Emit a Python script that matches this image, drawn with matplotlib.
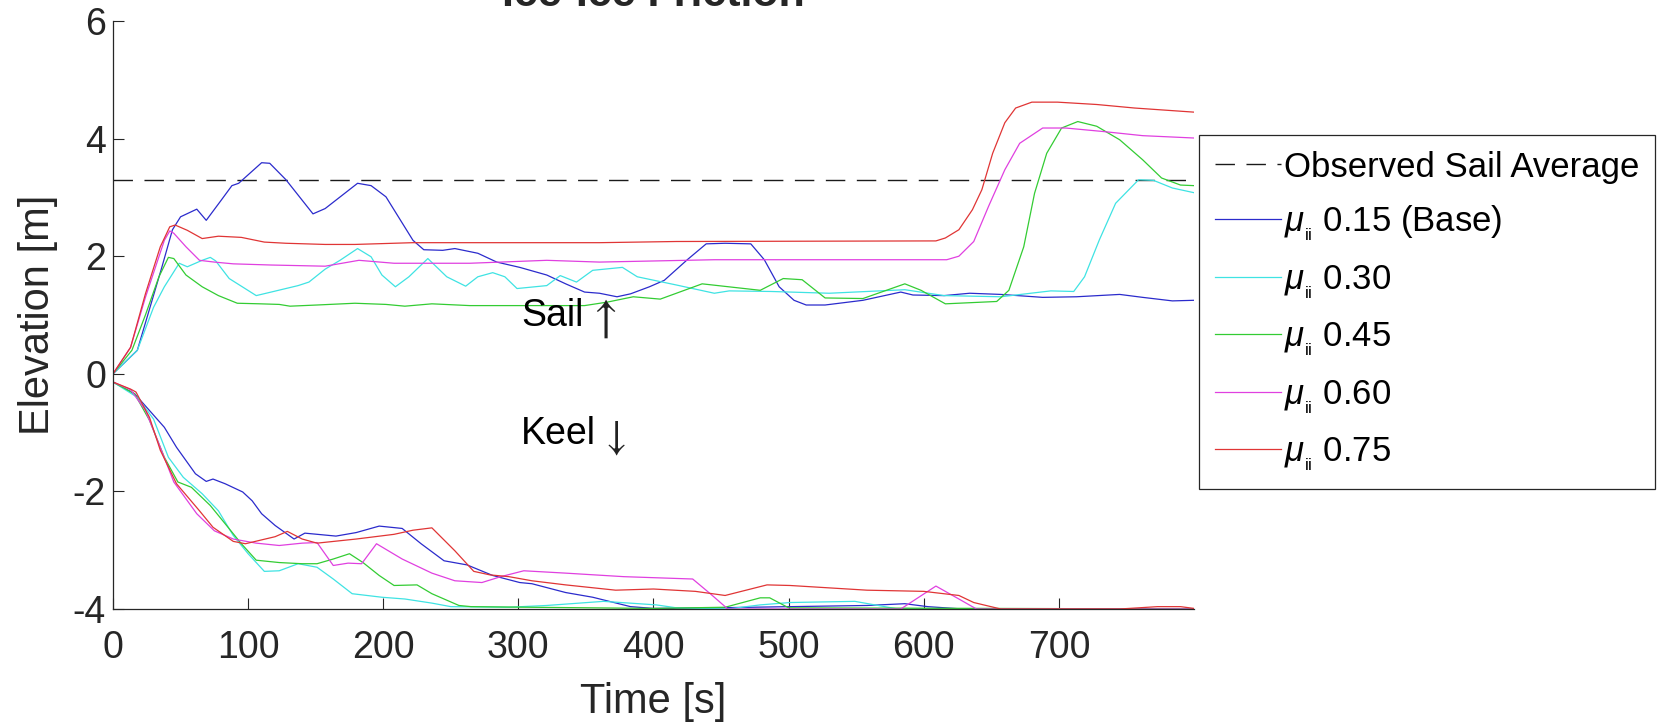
import matplotlib
matplotlib.use("Agg")
import matplotlib.pyplot as plt

plt.rcParams['font.family'] = ['Liberation Sans', 'DejaVu Sans']
plt.rcParams['mathtext.fontset'] = 'custom'
plt.rcParams['mathtext.rm'] = 'Liberation Sans'
plt.rcParams['mathtext.it'] = 'Liberation Sans:italic'
plt.rcParams['axes.unicode_minus'] = False

TXT = '#262626'

# ---- data -------------------------------------------------------------
observed_sail_avg = 3.3

labels = [r'$\mu_{_{\mathrm{ii}}}$ 0.15 (Base)', r'$\mu_{_{\mathrm{ii}}}$ 0.30',
          r'$\mu_{_{\mathrm{ii}}}$ 0.45', r'$\mu_{_{\mathrm{ii}}}$ 0.60',
          r'$\mu_{_{\mathrm{ii}}}$ 0.75']
colors = ['#2b2bcc', '#3fe3e3', '#33cc33', '#e040e0', '#e03535']

# mu = 0.15 (base)
sail_t_015 = [0, 18, 36, 44, 50, 62, 69, 80, 88, 93, 110, 116, 128, 148, 157, 181, 191, 202, 222, 230, 244, 253, 270, 284, 301, 321, 335, 349, 360, 373, 383, 397, 408, 425, 439, 453, 472, 482, 493, 504, 513, 527, 555, 583, 592, 615, 634, 657, 688, 713, 745, 762, 784, 800]
sail_y_015 = [0, 0.40, 1.80, 2.45, 2.67, 2.80, 2.61, 2.95, 3.20, 3.24, 3.59, 3.58, 3.30, 2.72, 2.81, 3.24, 3.20, 3.01, 2.27, 2.11, 2.10, 2.13, 2.05, 1.90, 1.81, 1.68, 1.53, 1.39, 1.37, 1.31, 1.36, 1.48, 1.59, 1.94, 2.21, 2.22, 2.21, 1.94, 1.48, 1.25, 1.17, 1.17, 1.25, 1.39, 1.34, 1.33, 1.37, 1.35, 1.30, 1.31, 1.35, 1.30, 1.24, 1.25]
keel_t_015 = [0, 16, 28, 38, 47, 61, 69, 74, 83, 96, 103, 110, 120, 134, 142, 165, 180, 197, 214, 228, 245, 262, 281, 301, 310, 335, 355, 383, 400, 445, 501, 558, 586, 603, 629, 800]
keel_y_015 = [-0.14, -0.34, -0.65, -0.91, -1.25, -1.70, -1.83, -1.79, -1.87, -2.01, -2.16, -2.38, -2.58, -2.81, -2.71, -2.76, -2.70, -2.59, -2.63, -2.89, -3.18, -3.25, -3.43, -3.55, -3.57, -3.72, -3.80, -3.96, -3.99, -3.98, -3.96, -3.94, -3.91, -3.96, -4.00, -4.00]

# mu = 0.30
sail_t_030 = [0, 18, 30, 38, 49, 55, 66, 72, 76, 86, 106, 117, 137, 145, 157, 168, 181, 191, 199, 209, 219, 233, 247, 261, 270, 281, 290, 299, 321, 331, 343, 355, 377, 388, 417, 445, 456, 487, 530, 586, 615, 657, 694, 711, 719, 730, 742, 759, 770, 784, 800]
sail_y_030 = [0, 0.40, 1.13, 1.48, 1.88, 1.82, 1.93, 1.98, 1.92, 1.62, 1.33, 1.39, 1.50, 1.56, 1.78, 1.93, 2.13, 1.99, 1.68, 1.48, 1.65, 1.96, 1.65, 1.49, 1.65, 1.72, 1.65, 1.45, 1.50, 1.67, 1.56, 1.76, 1.81, 1.65, 1.51, 1.37, 1.41, 1.40, 1.37, 1.43, 1.33, 1.31, 1.41, 1.40, 1.65, 2.28, 2.90, 3.30, 3.29, 3.16, 3.08]
keel_t_030 = [0, 18, 30, 41, 52, 66, 78, 89, 100, 112, 123, 137, 151, 163, 177, 199, 216, 236, 250, 293, 321, 363, 402, 417, 455, 479, 501, 549, 581, 800]
keel_y_030 = [-0.14, -0.40, -0.77, -1.42, -1.76, -2.04, -2.33, -2.75, -3.06, -3.36, -3.35, -3.23, -3.29, -3.49, -3.74, -3.80, -3.83, -3.90, -3.96, -3.97, -3.94, -3.87, -3.93, -3.98, -4.00, -3.93, -3.89, -3.87, -4.00, -4.00]

# mu = 0.45
sail_t_045 = [0, 14, 24, 34, 41, 45, 54, 66, 78, 92, 109, 123, 131, 151, 179, 202, 216, 236, 264, 307, 349, 366, 385, 405, 436, 479, 496, 510, 527, 555, 586, 598, 616, 654, 663, 674, 682, 691, 702, 714, 728, 745, 762, 776, 790, 800]
sail_y_045 = [0, 0.40, 1.00, 1.65, 1.98, 1.96, 1.68, 1.48, 1.33, 1.20, 1.19, 1.18, 1.15, 1.17, 1.20, 1.18, 1.15, 1.19, 1.16, 1.16, 1.16, 1.22, 1.31, 1.27, 1.53, 1.42, 1.62, 1.60, 1.29, 1.28, 1.53, 1.42, 1.19, 1.23, 1.42, 2.16, 3.07, 3.75, 4.18, 4.29, 4.21, 3.98, 3.64, 3.33, 3.21, 3.20]
keel_t_045 = [0, 16, 27, 38, 48, 58, 72, 83, 95, 106, 123, 140, 151, 163, 175, 185, 197, 208, 225, 236, 256, 265, 307, 400, 453, 479, 486, 500, 800]
keel_y_045 = [-0.14, -0.34, -0.79, -1.42, -1.84, -1.93, -2.24, -2.55, -2.89, -3.17, -3.21, -3.23, -3.23, -3.15, -3.06, -3.21, -3.43, -3.60, -3.59, -3.74, -3.94, -3.96, -3.97, -3.99, -3.97, -3.81, -3.81, -3.98, -4.00]

# mu = 0.60
sail_t_060 = [0, 13, 24, 38, 42, 45, 54, 64, 75, 89, 117, 157, 182, 208, 264, 321, 360, 445, 617, 626, 637, 648, 660, 671, 688, 705, 733, 762, 800]
sail_y_060 = [0, 0.45, 1.30, 2.27, 2.43, 2.39, 2.16, 1.93, 1.90, 1.87, 1.85, 1.83, 1.93, 1.88, 1.88, 1.93, 1.90, 1.94, 1.94, 2.00, 2.25, 2.85, 3.47, 3.92, 4.18, 4.18, 4.12, 4.05, 4.01]
keel_t_060 = [0, 13, 24, 35, 45, 62, 75, 89, 106, 123, 140, 151, 163, 174, 184, 195, 214, 236, 253, 273, 287, 304, 335, 378, 429, 442, 455, 583, 609, 626, 639, 800]
keel_y_060 = [-0.14, -0.27, -0.62, -1.25, -1.84, -2.38, -2.67, -2.81, -2.88, -2.92, -2.88, -2.87, -3.26, -3.22, -3.23, -2.89, -3.15, -3.39, -3.52, -3.55, -3.45, -3.35, -3.39, -3.45, -3.49, -3.74, -4.00, -4.00, -3.61, -3.83, -4.00, -4.00]

# mu = 0.75
sail_t_075 = [0, 13, 24, 35, 42, 46, 55, 66, 78, 95, 112, 128, 157, 179, 222, 360, 417, 609, 616, 626, 636, 643, 651, 660, 668, 680, 699, 728, 756, 800]
sail_y_075 = [0, 0.45, 1.36, 2.16, 2.50, 2.53, 2.44, 2.30, 2.34, 2.32, 2.24, 2.22, 2.20, 2.20, 2.23, 2.23, 2.25, 2.26, 2.31, 2.45, 2.79, 3.13, 3.75, 4.27, 4.52, 4.62, 4.62, 4.58, 4.52, 4.45]
keel_t_075 = [0, 13, 17, 27, 35, 47, 64, 74, 89, 98, 109, 120, 129, 140, 151, 180, 208, 222, 236, 253, 267, 279, 293, 310, 335, 372, 400, 431, 453, 484, 501, 558, 600, 626, 637, 657, 745, 773, 790, 800]
keel_y_075 = [-0.14, -0.26, -0.31, -0.74, -1.30, -1.87, -2.33, -2.61, -2.85, -2.89, -2.83, -2.77, -2.68, -2.81, -2.88, -2.81, -2.73, -2.66, -2.62, -3.01, -3.36, -3.42, -3.45, -3.52, -3.59, -3.68, -3.66, -3.70, -3.77, -3.59, -3.60, -3.68, -3.70, -3.77, -3.89, -4.00, -4.00, -3.96, -3.96, -3.99]

sail_t = [sail_t_015, sail_t_030, sail_t_045, sail_t_060, sail_t_075]
sail_y = [sail_y_015, sail_y_030, sail_y_045, sail_y_060, sail_y_075]
keel_t = [keel_t_015, keel_t_030, keel_t_045, keel_t_060, keel_t_075]
keel_y = [keel_y_015, keel_y_030, keel_y_045, keel_y_060, keel_y_075]

x_ticks = [0, 100, 200, 300, 400, 500, 600, 700]
y_ticks = [-4, -2, 0, 2, 4, 6]

# ---- figure -----------------------------------------------------------
W, H = 1657, 722
fig = plt.figure(figsize=(W / 100, H / 100), dpi=100)
ax = fig.add_axes([113 / W, 1 - 609 / H, 1081 / W, 588 / H])

avg_line, = ax.plot([0, 800], [observed_sail_avg, observed_sail_avg],
                    color='#1a1a1a', lw=1.0, dashes=(14, 8.3),
                    label='Observed Sail Average')
handles = [avg_line]
for i in range(5):
    h, = ax.plot(sail_t[i], sail_y[i], color=colors[i], lw=0.9, label=labels[i])
    ax.plot(keel_t[i], keel_y[i], color=colors[i], lw=0.9)
    handles.append(h)

ax.set_xlim(0, 800)
ax.set_ylim(-4, 6)
ax.set_xticks(x_ticks)
ax.set_yticks(y_ticks)
for s in ('top', 'right'):
    ax.spines[s].set_visible(False)
for s in ('left', 'bottom'):
    ax.spines[s].set_color(TXT)
    ax.spines[s].set_linewidth(0.9)
ax.tick_params(direction='in', length=7.8, width=0.8, color=TXT,
               labelsize=27, labelcolor=TXT)
ax.tick_params(axis='x', pad=15)
ax.tick_params(axis='y', pad=5)

ax.set_xlabel('Time [s]', fontsize=30, color=TXT, labelpad=12)
ax.set_ylabel('Elevation [m]', fontsize=30, color=TXT, labelpad=11)

# region labels with thin arrows
ax.text(302, 0.98, 'Sail', fontsize=27, color='black', va='center', ha='left')
ax.text(364, 0.93, '\u2191', fontsize=34, family='STIXGeneral', color='#222222',
        va='center', ha='center')
ax.text(302, -1.02, 'Keel', fontsize=27, color='black', va='center', ha='left')
ax.text(372, -1.10, '\u2193', fontsize=30, family='STIXGeneral', color='#222222',
        va='center', ha='center')

# title sits mostly above the canvas
fig.text((113 + 1081 / 2) / W, 1 - 6 / H, 'Ice-Ice Friction', fontsize=31,
         fontweight='bold', color=TXT, ha='center', va='baseline')

leg = fig.legend(handles=handles, loc='upper left',
                 bbox_to_anchor=(1199 / W, 1 - 135 / H),
                 bbox_transform=fig.transFigure, fontsize=25,
                 frameon=True, fancybox=False, framealpha=1,
                 edgecolor=TXT, handlelength=1.9, handletextpad=0.1,
                 labelspacing=0.57, borderpad=0.45, borderaxespad=0)
leg.get_frame().set_linewidth(0.9)
for t in leg.get_texts():
    t.set_color('black')

fig.savefig('out.png', dpi=100, facecolor='white')
